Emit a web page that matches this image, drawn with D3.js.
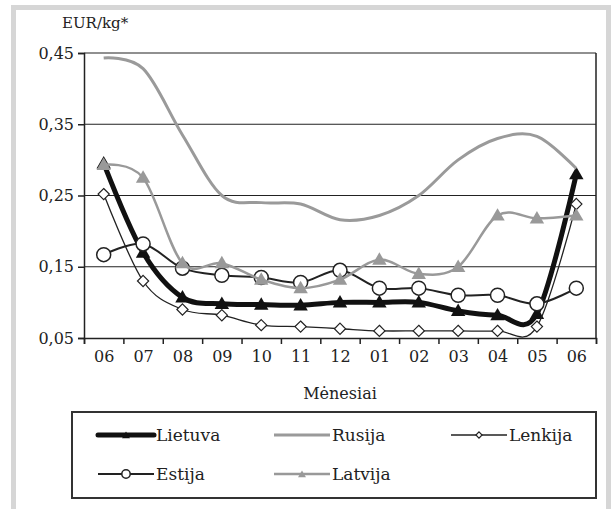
<!DOCTYPE html>
<html>
<head>
<meta charset="utf-8">
<script src="https://cdn.jsdelivr.net/npm/d3@7"></script>
<style>
  body { margin: 0; background: #fff; }
  svg text { font-family: 'DejaVu Serif', 'Liberation Serif', serif !important; }
</style>
</head>
<body>
<svg width="611" height="509"></svg>
<script>
  const months = ['06', '07', '08', '09', '10', '11', '12', '01', '02', '03', '04', '05', '06'];
  const lietuva = [0.295, 0.170, 0.107, 0.098, 0.097, 0.096, 0.100, 0.100, 0.100, 0.088, 0.082, 0.084, 0.280];
  const rusija  = [0.443, 0.428, 0.335, 0.250, 0.240, 0.238, 0.216, 0.222, 0.250, 0.300, 0.330, 0.333, 0.288];
  const lenkija = [0.252, 0.130, 0.090, 0.082, 0.068, 0.066, 0.063, 0.060, 0.060, 0.060, 0.060, 0.066, 0.238];
  const estija  = [0.167, 0.182, 0.148, 0.138, 0.135, 0.128, 0.145, 0.120, 0.120, 0.110, 0.110, 0.098, 0.120];
  const latvija = [0.293, 0.275, 0.155, 0.155, 0.132, 0.120, 0.132, 0.160, 0.140, 0.150, 0.222, 0.218, 0.222];
  const yTicks = [0.05, 0.15, 0.25, 0.35, 0.45];

  const svg = d3.select('svg');

  // gray frame round the figure
  svg.append('rect')
    .attr('x', 13.5).attr('y', 7.5)
    .attr('width', 595).attr('height', 520)
    .attr('fill', 'none')
    .attr('stroke', '#d6d6d6')
    .attr('stroke-width', 5);

  const margin = { left: 84, right: 596, top: 53, bottom: 338 };

  const x = d3.scaleLinear().domain([0, months.length]).range([margin.left, margin.right]);
  const y = d3.scaleLinear().domain([0.05, 0.45]).range([margin.bottom, margin.top]);

  // gridlines
  svg.append('g')
    .selectAll('line').data(yTicks.slice(1))
    .enter().append('line')
      .attr('x1', margin.left).attr('x2', margin.right)
      .attr('y1', d => y(d)).attr('y2', d => y(d))
      .attr('stroke', '#222').attr('stroke-width', 1.2);

  // right border
  svg.append('line')
    .attr('x1', margin.right).attr('x2', margin.right)
    .attr('y1', margin.top).attr('y2', margin.bottom)
    .attr('stroke', '#222').attr('stroke-width', 1.5);

  const fmt = d => d.toFixed(2).replace('.', ',');

  svg.append('g')
    .attr('transform', `translate(${margin.left},0)`)
    .call(d3.axisLeft(y).tickValues(yTicks).tickFormat(fmt).tickSize(6).tickPadding(4));

  svg.append('g')
    .attr('transform', `translate(0,${margin.bottom})`)
    .call(d3.axisBottom(x).tickValues(d3.range(months.length + 1)).tickFormat('').tickSize(6));

  const xLabelG = svg.append('g')
    .attr('transform', `translate(0,${margin.bottom})`)
    .call(d3.axisBottom(x)
      .tickValues(d3.range(months.length).map(i => i + 0.5))
      .tickFormat(d => months[Math.floor(d)])
      .tickSize(0).tickPadding(13));
  xLabelG.select('.domain').remove();

  svg.selectAll('g').attr('font-family', null);
  svg.selectAll('.tick text')
    .attr('font-size', 16)
    .attr('fill', '#222');
  svg.selectAll('.domain').attr('stroke', '#222').attr('stroke-width', 1.5);
  svg.selectAll('.tick line').attr('stroke', '#222').attr('stroke-width', 1.5);

  svg.append('text')
    .attr('x', 62).attr('y', 28)
    .attr('font-size', 15)
    .attr('fill', '#222')
    .text('EUR/kg*');

  svg.append('text')
    .attr('x', (margin.left + margin.right) / 2).attr('y', 399)
    .attr('text-anchor', 'middle')
    .attr('font-size', 16)
    .attr('fill', '#222')
    .text('Mėnesiai');

  const tri = d3.symbol().type(d3.symbolTriangle);
  const series = [
    { name: 'Lietuva', values: lietuva, color: '#111', width: 5, marker: 'tri', fill: '#111', size: 90 },
    { name: 'Rusija', values: rusija, color: '#9a9a9a', width: 3, marker: null },
    { name: 'Lenkija', values: lenkija, color: '#222', width: 1.3, marker: 'diamond', fill: '#fff', size: 80 },
    { name: 'Estija', values: estija, color: '#222', width: 2, marker: 'circle', fill: '#fff', size: 7 },
    { name: 'Latvija', values: latvija, color: '#999', width: 2.5, marker: 'tri', fill: '#999', size: 90 }
  ];

  const line = d3.line()
    .x((d, i) => x(i + 0.5))
    .y(d => y(d))
    .curve(d3.curveCardinal.tension(0));

  const drawMarker = (g, s, px, py, scale) => {
    if (s.marker === 'circle') {
      g.append('circle')
        .attr('cx', px).attr('cy', py).attr('r', s.size * scale)
        .attr('fill', s.fill).attr('stroke', '#222').attr('stroke-width', 1.5);
    } else if (s.marker === 'diamond') {
      g.append('path')
        .attr('d', d3.symbol().type(d3.symbolDiamond2).size(s.size * scale * scale)())
        .attr('transform', `translate(${px},${py})`)
        .attr('fill', s.fill).attr('stroke', '#222').attr('stroke-width', 1.2);
    } else if (s.marker === 'tri') {
      g.append('path')
        .attr('d', tri.size(s.size * scale * scale)())
        .attr('transform', `translate(${px},${py + 1})`)
        .attr('fill', s.fill);
    }
  };

  series.forEach(s => {
    const g = svg.append('g');
    g.append('path')
      .datum(s.values)
      .attr('d', line)
      .attr('fill', 'none')
      .attr('stroke', s.color)
      .attr('stroke-width', s.width)
      .attr('stroke-linejoin', 'round');
    s.values.forEach((v, i) => drawMarker(g, s, x(i + 0.5), y(v), 1));
  });

  // legend
  svg.append('rect')
    .attr('x', 72).attr('y', 412)
    .attr('width', 524).attr('height', 86)
    .attr('fill', 'none')
    .attr('stroke', '#333').attr('stroke-width', 2);

  const legendPos = [
    { x: 98, y: 435 }, { x: 274, y: 435 }, { x: 451, y: 435 },
    { x: 98, y: 474 }, { x: 274, y: 474 }
  ];
  series.forEach((s, i) => {
    const p = legendPos[i];
    const g = svg.append('g');
    g.append('line')
      .attr('x1', p.x).attr('x2', p.x + 56)
      .attr('y1', p.y).attr('y2', p.y)
      .attr('stroke', s.color).attr('stroke-width', s.width)
      .attr('stroke-linecap', s.name === 'Lietuva' ? 'round' : 'butt');
    drawMarker(g, s, p.x + 28, p.y, s.marker === 'circle' ? 0.6 : 0.55);
    g.append('text')
      .attr('x', p.x + 58).attr('y', p.y + 6)
      .attr('font-size', 17)
      .attr('fill', '#222')
      .text(s.name);
  });
</script>
</body>
</html>
